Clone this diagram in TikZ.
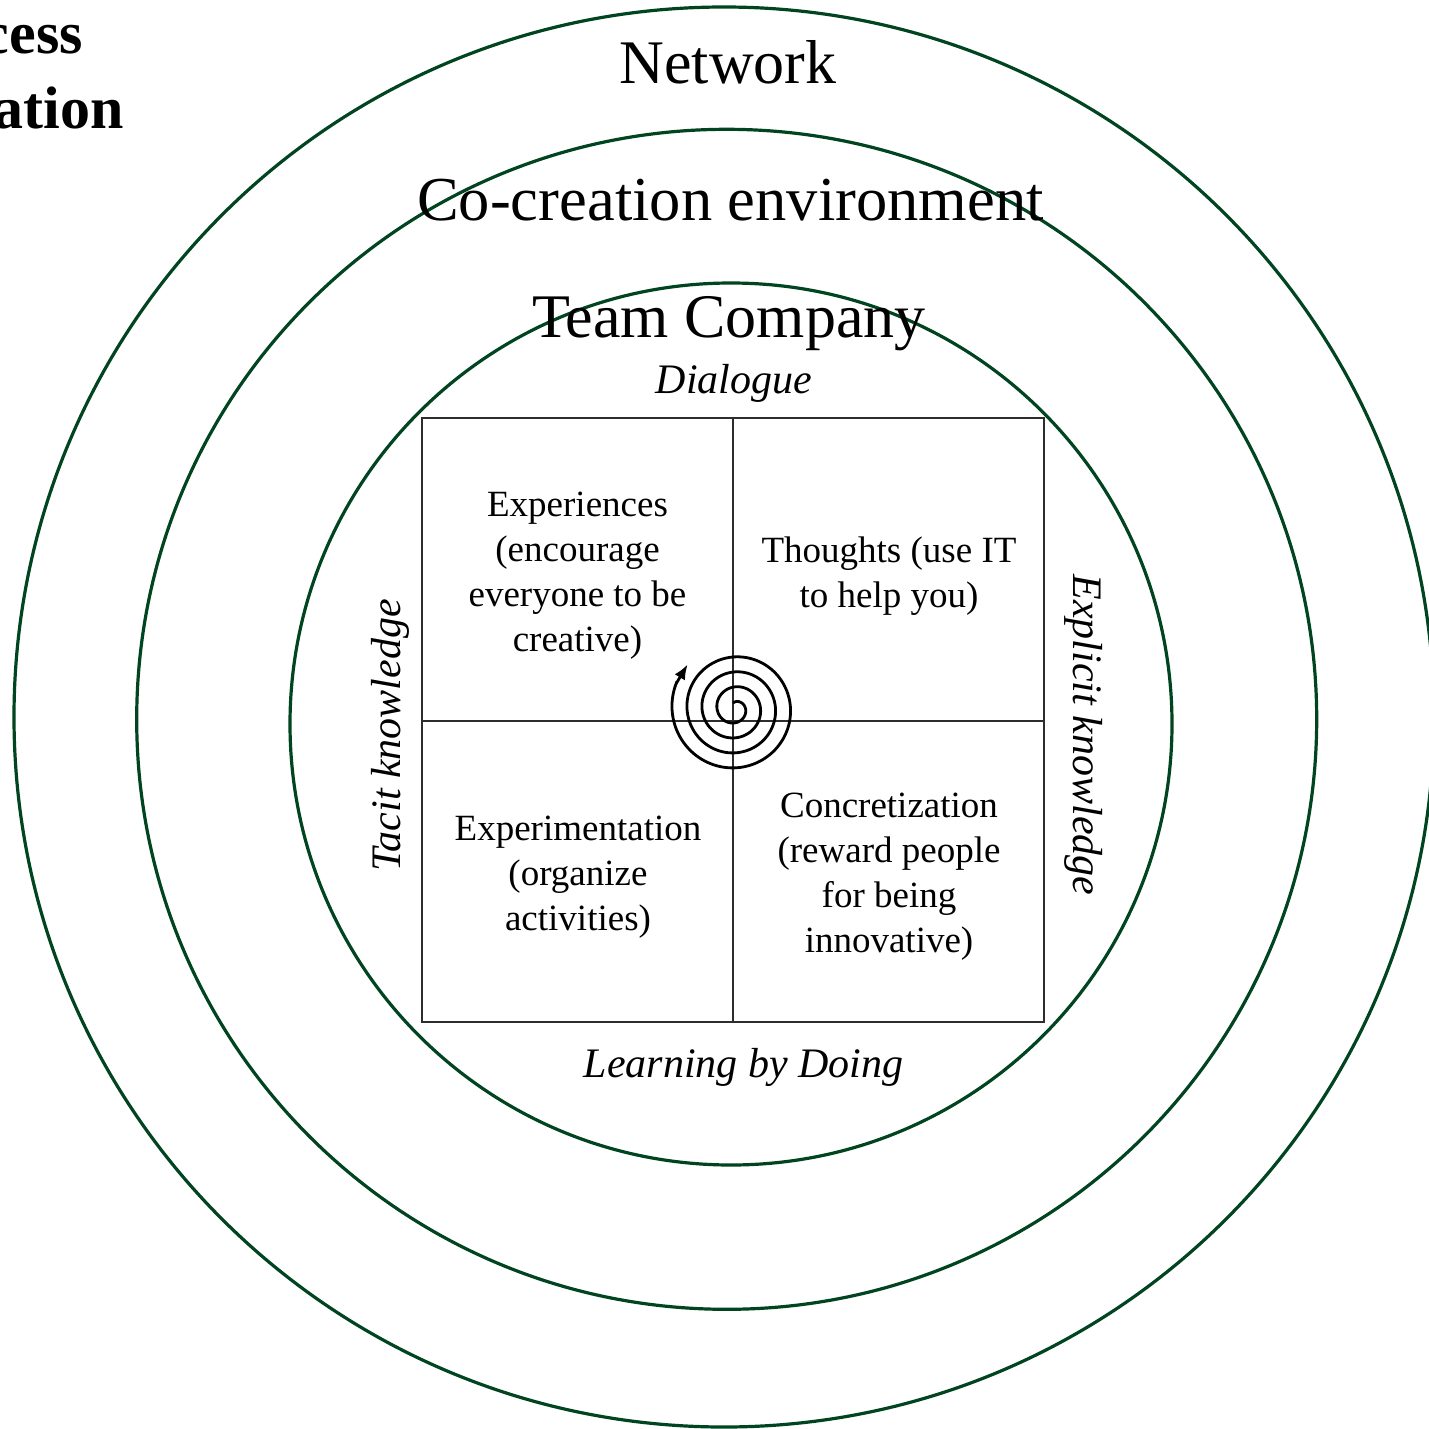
\documentclass[tikz,border=0pt]{standalone}
\usepackage{fontspec}
\setmainfont{Liberation Serif}
\usetikzlibrary{arrows.meta}
\definecolor{ringgreen}{RGB}{0,68,32}
\definecolor{gridgray}{RGB}{45,45,45}
\begin{document}
\begin{tikzpicture}[x=1pt,y=-1pt,
  ring/.style={draw=ringgreen, line width=3.2pt},
  grid/.style={draw=gridgray, line width=1.3pt},
  bigtitle/.style={font=\fontsize{62}{70}\selectfont, anchor=base, inner sep=0pt},
  quad/.style={font=\fontsize{37}{45}\selectfont, align=center, inner sep=0pt},
  axislabel/.style={font=\fontsize{42}{48}\selectfont\itshape, anchor=base, inner sep=0pt},
  corner/.style={font=\fontsize{60}{70}\selectfont\bfseries, anchor=base east, inner sep=0pt}]
\useasboundingbox (0,0) rectangle (1429,1429);
\clip (0,0) rectangle (1429,1429);
\fill[white] (0,0) rectangle (1429,1429);

% rings
\draw[ring] (724,717) circle[radius=710];
\draw[ring] (726.7,719.3) circle[radius=590];
\draw[ring] (731,724) circle[radius=441];

% titles
\node[bigtitle] (network) at (728,83) {Network};
\node[bigtitle, font=\fontsize{62.5}{70}\selectfont] (cocreation) at (730.5,220) {Co-creation environment};
\node[bigtitle] (team) at (729,337) {Team Company};

% top-left cut text
\node[corner] (cess) at (83,53) {cess};
\node[corner] (ation) at (124,128) {ation};

% quadrant grid
\draw[grid] (422,418) rectangle (1044,1022);
\draw[grid] (733,418) -- (733,1022);
\draw[grid] (422,721) -- (1044,721);

% axis labels
\node[axislabel] (dialogue) at (734,393) {Dialogue};
\node[axislabel] (learning) at (743.5,1077) {Learning by Doing};
\node[axislabel, rotate=90] (tacit) at (400,735.5) {Tacit knowledge};
\node[axislabel, rotate=-90] (explicit) at (1073,735) {Explicit knowledge};

% quadrant texts
\node[quad] (exper) at (577.5,576) {Experiences\\(encourage\\everyone to be\\creative)};
\node[quad] (thoughts) at (889,576) {Thoughts (use IT\\to help you)};
\node[quad] (experim) at (578,877) {Experimentation\\(organize\\activities)};
\node[quad] (concr) at (889,877) {Concretization\\(reward people\\for being\\innovative)};

% spiral
\draw[black, line width=2.8pt]
  plot[domain=-110:1285, samples=500, smooth]
  ({735+(10.5+\x/24)*cos(\x)}, {708.6+(10.5+\x/24)*sin(\x)});
\coordinate (sp1) at ({735+(10.5+1283/24)*cos(1283)}, {708.6+(10.5+1283/24)*sin(1283)});
\coordinate (sp2) at ({735+(10.5+1303/24)*cos(1303)}, {708.6+(10.5+1303/24)*sin(1303)});
\draw[black, line width=2.8pt, -{Latex[length=15pt,width=12pt]}] (sp1) -- (sp2);
\end{tikzpicture}
\end{document}
